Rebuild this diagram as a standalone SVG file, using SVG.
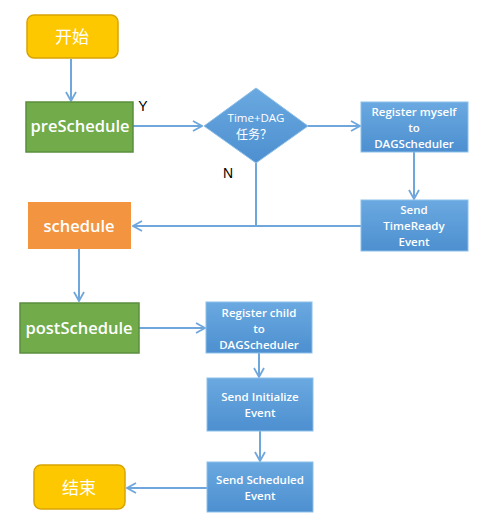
<svg xmlns="http://www.w3.org/2000/svg" width="494" height="520" viewBox="0 0 494 520">
<defs>
<linearGradient id="blue" x1="0" y1="0" x2="0" y2="1">
<stop offset="0" stop-color="#6aa9e0"/>
<stop offset="1" stop-color="#4d8fd0"/>
</linearGradient>
<marker id="arr" viewBox="0 0 12 12" refX="11" refY="6" markerWidth="12" markerHeight="12" markerUnits="userSpaceOnUse" orient="auto">
<path d="M2,1 L11,6 L2,11" fill="none" stroke="#6fa7dc" stroke-width="1.8"/>
</marker>
</defs>
<style>
.term{fill:#fdc800;stroke:#d8a400;stroke-width:1.5}
.green{fill:#71ab4a;stroke:#5a8f3c;stroke-width:1.5}
.orange{fill:#f29440}
.blue{fill:url(#blue);stroke:#8cbfe9;stroke-width:1}
.t{fill:#fff;font-family:"Open Sans","Noto Sans CJK SC",sans-serif;text-anchor:middle}
.big{font-size:16.5px;font-weight:600}
.sm{font-size:11.5px;font-weight:600}
.cjk{font-family:"Noto Sans CJK SC",sans-serif;font-size:17px}
.lbl{font-family:"Liberation Sans",sans-serif;font-size:14px;fill:#000}
.c{fill:none;stroke:#6fa7dc;stroke-width:2}
</style>
<rect width="494" height="520" fill="#fff"/>
<g id="connectors">
<line class="c" x1="71" y1="59" x2="71" y2="101" marker-end="url(#arr)"/>
<line class="c" x1="133" y1="126" x2="202" y2="126" marker-end="url(#arr)"/>
<line class="c" x1="308" y1="126" x2="360" y2="126" marker-end="url(#arr)"/>
<line class="c" x1="414" y1="152" x2="414" y2="199" marker-end="url(#arr)"/>
<line class="c" x1="361" y1="226" x2="133" y2="226" marker-end="url(#arr)"/>
<line class="c" x1="256" y1="163" x2="256" y2="226"/>
<line class="c" x1="79" y1="249" x2="79" y2="301" marker-end="url(#arr)"/>
<line class="c" x1="139" y1="328" x2="205" y2="328" marker-end="url(#arr)"/>
<line class="c" x1="259" y1="353" x2="259" y2="377" marker-end="url(#arr)"/>
<line class="c" x1="260" y1="431" x2="260" y2="461" marker-end="url(#arr)"/>
<line class="c" x1="207" y1="488" x2="127" y2="488" marker-end="url(#arr)"/>
</g>
<g id="start">
<rect class="term" x="27" y="15" width="91" height="43" rx="7"/>
<text class="t cjk" x="72" y="43">开始</text>
</g>
<g id="preSchedule">
<rect class="green" x="26" y="102" width="107" height="50"/>
<text class="t big" x="80" y="132">preSchedule</text>
</g>
<text class="lbl" x="143" y="111" text-anchor="middle">Y</text>
<text class="lbl" x="228" y="178" text-anchor="middle">N</text>
<g id="decision">
<polygon points="256,88 308,126 256,163 204,126" fill="url(#blue)" stroke="#8cbfe9" stroke-width="1"/>
<text class="t sm" x="256" y="122" style="font-weight:500">Time+DAG</text>
<text class="t" x="254" y="139" style="font-family:'Noto Sans CJK SC',sans-serif;font-size:12px">任务？</text>
</g>
<g id="registerMyself">
<rect class="blue" x="361" y="102" width="107" height="50"/>
<text class="t sm" x="414" y="116">Register myself</text>
<text class="t sm" x="414" y="132">to</text>
<text class="t sm" x="414" y="148">DAGScheduler</text>
</g>
<g id="sendTimeReady">
<rect class="blue" x="361" y="200" width="107" height="51"/>
<text class="t sm" x="414" y="214">Send</text>
<text class="t sm" x="414" y="230">TimeReady</text>
<text class="t sm" x="414" y="246">Event</text>
</g>
<g id="schedule">
<rect class="orange" x="28" y="202" width="103" height="47"/>
<text class="t big" x="79" y="232">schedule</text>
</g>
<g id="postSchedule">
<rect class="green" x="20" y="303" width="119" height="50"/>
<text class="t big" x="79" y="334">postSchedule</text>
</g>
<g id="registerChild">
<rect class="blue" x="206" y="302" width="106" height="51"/>
<text class="t sm" x="259" y="317">Register child</text>
<text class="t sm" x="259" y="333">to</text>
<text class="t sm" x="259" y="349">DAGScheduler</text>
</g>
<g id="sendInitialize">
<rect class="blue" x="207" y="378" width="106" height="53"/>
<text class="t sm" x="260" y="401">Send Initialize</text>
<text class="t sm" x="260" y="417">Event</text>
</g>
<g id="sendScheduled">
<rect class="blue" x="207" y="462" width="106" height="50"/>
<text class="t sm" x="260" y="484">Send Scheduled</text>
<text class="t sm" x="260" y="500">Event</text>
</g>
<g id="end">
<rect class="term" x="34" y="465" width="91" height="44" rx="7"/>
<text class="t cjk" x="79" y="494">结束</text>
</g>
</svg>
